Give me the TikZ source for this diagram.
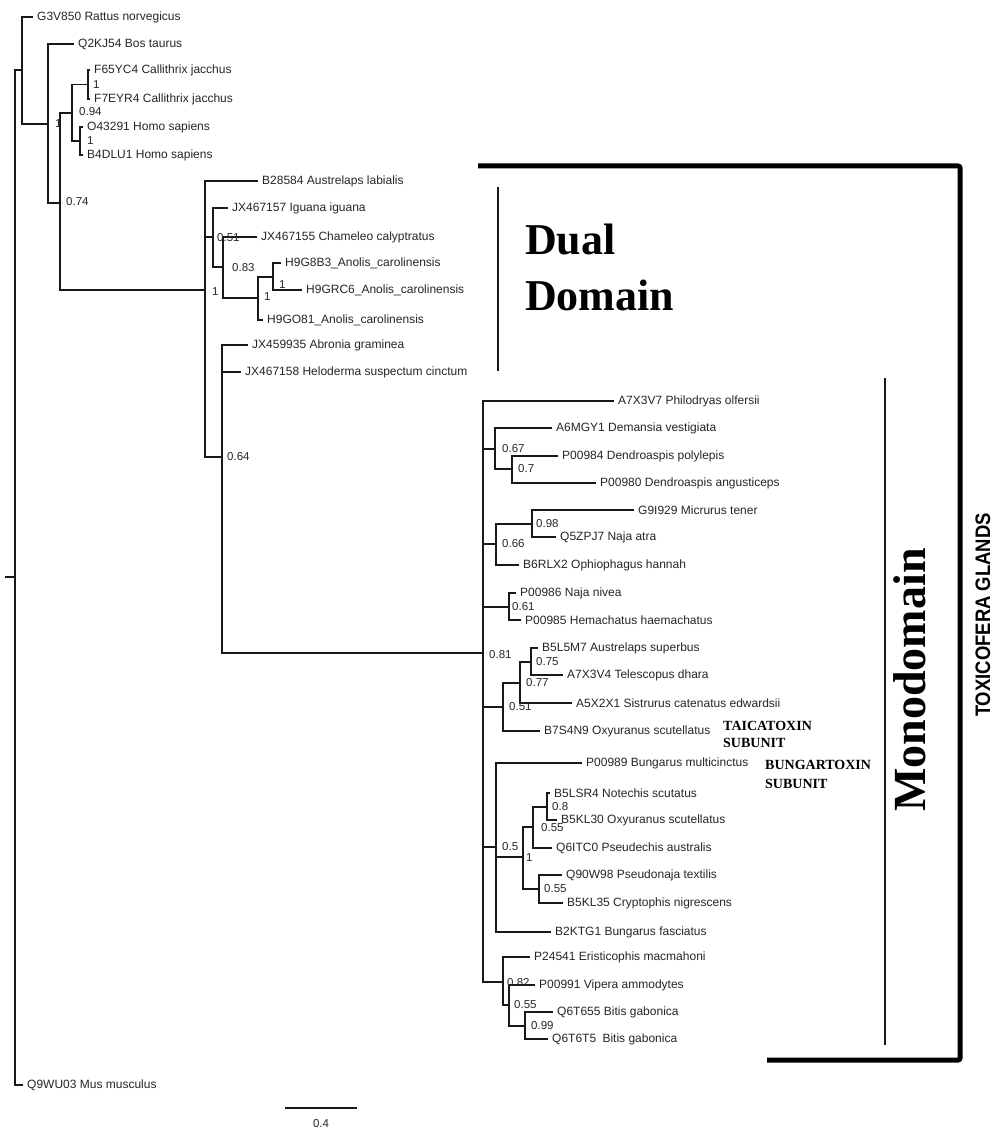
\documentclass[tikz,border=0pt]{standalone}
\usepackage{fontspec}
\setmainfont{Liberation Sans}
\newfontfamily\serifbf{Liberation Serif}
\newfontfamily\condfont{Liberation Sans}[FakeStretch=0.88]
\begin{document}
\begin{tikzpicture}[x=1pt,y=-1pt,
  br/.style={line width=1.1pt, draw=black!90},
  leaf/.style={anchor=west, inner xsep=4pt, inner ysep=1pt, font=\fontsize{12}{14}\selectfont, text=black!85},
  sup/.style={anchor=west, inner sep=0pt, font=\fontsize{11.5}{13}\selectfont, text=black!85},
  bigserif/.style={font=\serifbf\bfseries\fontsize{44}{50}\selectfont, inner sep=0pt},
  smallserif/.style={font=\serifbf\bfseries\fontsize{14}{16}\selectfont, inner sep=0pt, anchor=base west},
  bracketline/.style={line width=1.5pt, draw=black!90}
]
\useasboundingbox (0,0) rectangle (996,1131);
\fill[white] (0,0) rectangle (996,1131);

% internal nodes
\coordinate (R) at (15,577);
\coordinate (r0) at (5,577);
\coordinate (A) at (22,70);
\coordinate (B) at (48,124);
\coordinate (C) at (60,203);
\coordinate (D) at (72,113);
\coordinate (D1) at (88,84.5);
\coordinate (D2) at (80,141);
\coordinate (E) at (205,290);
\coordinate (F) at (213,237);
\coordinate (F2) at (223,267);
\coordinate (H) at (258,298);
\coordinate (H1) at (273,277);
\coordinate (G) at (222,457);
\coordinate (M) at (483,653);
\coordinate (N1) at (495,449);
\coordinate (N2) at (512,469);
\coordinate (N3) at (496,544);
\coordinate (N4) at (532,524);
\coordinate (N5) at (509,607);
\coordinate (N6) at (503,707);
\coordinate (N7) at (520,683);
\coordinate (N8) at (531,662);
\coordinate (N9) at (496,847);
\coordinate (N10) at (523,857);
\coordinate (N11) at (533,827);
\coordinate (N12) at (547,807);
\coordinate (N13) at (539,889);
\coordinate (N14) at (503,982);
\coordinate (N15) at (509,1005);
\coordinate (N16) at (525,1026);

% leaves
\node[leaf] (rat) at (33,17) {G3V850 Rattus norvegicus};
\node[leaf] (bos) at (74,44) {Q2KJ54 Bos taurus};
\node[leaf] (cj1) at (90,70) {F65YC4 Callithrix jacchus};
\node[leaf] (cj2) at (90,99) {F7EYR4 Callithrix jacchus};
\node[leaf] (hs1) at (83,127) {O43291 Homo sapiens};
\node[leaf] (hs2) at (83,155) {B4DLU1 Homo sapiens};
\node[leaf] (aus) at (258,181) {B28584 Austrelaps labialis};
\node[leaf] (igu) at (228,208) {JX467157 Iguana iguana};
\node[leaf] (cha) at (257,237) {JX467155 Chameleo calyptratus};
\node[leaf] (an1) at (281,263) {H9G8B3\_Anolis\_carolinensis};
\node[leaf] (an2) at (302,290) {H9GRC6\_Anolis\_carolinensis};
\node[leaf] (an3) at (263,320) {H9GO81\_Anolis\_carolinensis};
\node[leaf] (abr) at (248,345) {JX459935 Abronia graminea};
\node[leaf] (hel) at (241,372) {JX467158 Heloderma suspectum cinctum};
\node[leaf] (phi) at (614,401) {A7X3V7 Philodryas olfersii};
\node[leaf] (dem) at (552,428) {A6MGY1 Demansia vestigiata};
\node[leaf] (dp1) at (558,456) {P00984 Dendroaspis polylepis};
\node[leaf] (dp2) at (596,483) {P00980 Dendroaspis angusticeps};
\node[leaf] (mic) at (634,510) {G9I929 Micrurus tener};
\node[leaf] (naa) at (556,537) {Q5ZPJ7 Naja atra};
\node[leaf] (oph) at (519,565) {B6RLX2 Ophiophagus hannah};
\node[leaf] (nan) at (516,593) {P00986 Naja nivea};
\node[leaf] (hem) at (521,620) {P00985 Hemachatus haemachatus};
\node[leaf] (asu) at (538,648) {B5L5M7 Austrelaps superbus};
\node[leaf] (tel) at (563,675) {A7X3V4 Telescopus dhara};
\node[leaf] (sis) at (572,703) {A5X2X1 Sistrurus catenatus edwardsii};
\node[leaf] (ox1) at (540,731) {B7S4N9 Oxyuranus scutellatus};
\node[leaf] (bmu) at (582,763) {P00989 Bungarus multicinctus};
\node[leaf] (not) at (550,793) {B5LSR4 Notechis scutatus};
\node[leaf] (ox2) at (557,820) {B5KL30 Oxyuranus scutellatus};
\node[leaf] (pse) at (552,848) {Q6ITC0 Pseudechis australis};
\node[leaf] (pte) at (562,875) {Q90W98 Pseudonaja textilis};
\node[leaf] (cry) at (563,903) {B5KL35 Cryptophis nigrescens};
\node[leaf] (bfa) at (551,932) {B2KTG1 Bungarus fasciatus};
\node[leaf] (eri) at (530,957) {P24541 Eristicophis macmahoni};
\node[leaf] (vip) at (535,985) {P00991 Vipera ammodytes};
\node[leaf] (bg1) at (553,1012) {Q6T655 Bitis gabonica};
\node[leaf] (bg2) at (548,1039) {Q6T6T5\hspace{3pt} Bitis gabonica};
\node[leaf] (mus) at (23,1085) {Q9WU03 Mus musculus};

% branches
\draw[br] (r0) -- (R);
\draw[br] (R) |- (A);
\draw[br] (R) |- (mus.west);
\draw[br] (A) |- (rat.west);
\draw[br] (A) |- (B);
\draw[br] (B) |- (bos.west);
\draw[br] (B) |- (C);
\draw[br] (C) |- (D);
\draw[br] (C) |- (E);
\draw[br] (D) |- (D1);
\draw[br] (D) |- (D2);
\draw[br] (D1) |- (cj1.west);
\draw[br] (D1) |- (cj2.west);
\draw[br] (D2) |- (hs1.west);
\draw[br] (D2) |- (hs2.west);
\draw[br] (E) |- (aus.west);
\draw[br] (E) |- (F);
\draw[br] (E) |- (G);
\draw[br] (F) |- (igu.west);
\draw[br] (F) |- (F2);
\draw[br] (F2) |- (cha.west);
\draw[br] (F2) |- (H);
\draw[br] (H) |- (H1);
\draw[br] (H) |- (an3.west);
\draw[br] (H1) |- (an1.west);
\draw[br] (H1) |- (an2.west);
\draw[br] (G) |- (abr.west);
\draw[br] (G) |- (hel.west);
\draw[br] (G) |- (M);
\draw[br] (M) |- (phi.west);
\draw[br] (M) |- (N1);
\draw[br] (M) |- (N3);
\draw[br] (M) |- (N5);
\draw[br] (M) |- (N6);
\draw[br] (M) |- (N9);
\draw[br] (M) |- (N14);
\draw[br] (N1) |- (dem.west);
\draw[br] (N1) |- (N2);
\draw[br] (N2) |- (dp1.west);
\draw[br] (N2) |- (dp2.west);
\draw[br] (N3) |- (N4);
\draw[br] (N3) |- (oph.west);
\draw[br] (N4) |- (mic.west);
\draw[br] (N4) |- (naa.west);
\draw[br] (N5) |- (nan.west);
\draw[br] (N5) |- (hem.west);
\draw[br] (N6) |- (N7);
\draw[br] (N6) |- (ox1.west);
\draw[br] (N7) |- (N8);
\draw[br] (N7) |- (sis.west);
\draw[br] (N8) |- (asu.west);
\draw[br] (N8) |- (tel.west);
\draw[br] (N9) |- (bmu.west);
\draw[br] (N9) |- (N10);
\draw[br] (N9) |- (bfa.west);
\draw[br] (N10) |- (N11);
\draw[br] (N10) |- (N13);
\draw[br] (N11) |- (N12);
\draw[br] (N11) |- (pse.west);
\draw[br] (N12) |- (not.west);
\draw[br] (N12) |- (ox2.west);
\draw[br] (N13) |- (pte.west);
\draw[br] (N13) |- (cry.west);
\draw[br] (N14) |- (eri.west);
\draw[br] (N14) |- (N15);
\draw[br] (N15) |- (vip.west);
\draw[br] (N15) |- (N16);
\draw[br] (N16) |- (bg1.west);
\draw[br] (N16) |- (bg2.west);

% support values
\node[sup] (sB) at (55,124) {1};
\node[sup] (sC) at (66,202) {0.74};
\node[sup] (sD) at (79,112) {0.94};
\node[sup] (sD1) at (93,85) {1};
\node[sup] (sD2) at (87,141) {1};
\node[sup] (sE) at (212,292) {1};
\node[sup] (sF) at (217,238) {0.51};
\node[sup] (sF2) at (232,268) {0.83};
\node[sup] (sH) at (264,297) {1};
\node[sup] (sH1) at (279,285) {1};
\node[sup] (sG) at (227,457) {0.64};
\node[sup] (sM) at (489,655) {0.81};
\node[sup] (sN1) at (502,449) {0.67};
\node[sup] (sN2) at (518,469) {0.7};
\node[sup] (sN3) at (502,544) {0.66};
\node[sup] (sN4) at (536,524) {0.98};
\node[sup] (sN5) at (512,607) {0.61};
\node[sup] (sN6) at (509,707) {0.51};
\node[sup] (sN7) at (526,683) {0.77};
\node[sup] (sN8) at (536,662) {0.75};
\node[sup] (sN9) at (502,847) {0.5};
\node[sup] (sN10) at (526,858) {1};
\node[sup] (sN11) at (541,828) {0.55};
\node[sup] (sN12) at (552,807) {0.8};
\node[sup] (sN13) at (544,889) {0.55};
\node[sup] (sN14) at (507,983) {0.82};
\node[sup] (sN15) at (514,1005) {0.55};
\node[sup] (sN16) at (531,1026) {0.99};

% scale bar
\coordinate (sb1) at (285,1108);
\coordinate (sb2) at (357,1108);
\draw[br] (sb1) -- (sb2);
\node[sup, anchor=center] (sbl) at (321,1124) {0.4};

% brackets
\coordinate (t1) at (478,166);
\coordinate (t2) at (960,166);
\coordinate (t3) at (960,1060);
\coordinate (t4) at (767,1060);
\draw[line width=5pt, rounded corners=2pt] (t1) -- (t2) -- (t3) -- (t4);
\coordinate (d1) at (498,187);
\coordinate (d2) at (498,371);
\draw[bracketline] (d1) -- (d2);
\coordinate (m1) at (885,378);
\coordinate (m2) at (885,1045);
\draw[bracketline] (m1) -- (m2);

% group labels
\node[bigserif, anchor=base west] (dual) at (525,255) {Dual};
\node[bigserif, anchor=base west] (domain) at (525,310) {Domain};
\node[font=\serifbf\bfseries\fontsize{46}{52}\selectfont, inner sep=0pt, rotate=90] (mono) at (910,680) {Monodomain};
\node[font=\condfont\bfseries\fontsize{21}{24}\selectfont, rotate=90, inner sep=0pt] (tox) at (983,615) {TOXICOFERA GLANDS};
\node[smallserif] (tai1) at (723,730) {TAICATOXIN};
\node[smallserif] (tai2) at (723,747) {SUBUNIT};
\node[smallserif] (bun1) at (765,769) {BUNGARTOXIN};
\node[smallserif] (bun2) at (765,788) {SUBUNIT};
\end{tikzpicture}
\end{document}
